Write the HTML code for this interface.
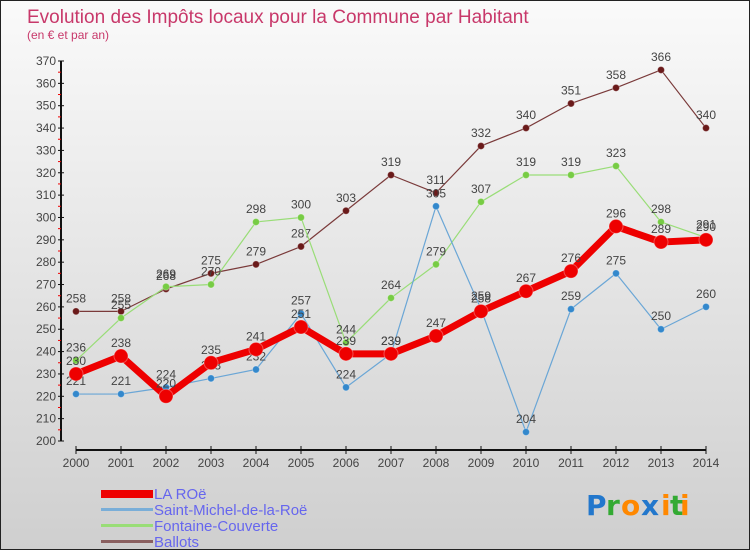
<!DOCTYPE html>
<html><head><meta charset="utf-8"><style>
body{margin:0}
#c{width:748px;height:548px;border:1px solid #222;background:linear-gradient(#fafafa,#cfcfcf);position:relative;font-family:"Liberation Sans",sans-serif;overflow:hidden}
</style></head><body>
<div id="c">
<svg id="s" width="748" height="548" style="position:absolute;left:0;top:0">
<text x="26" y="22" font-size="19" fill="#c8386a">Evolution des Impôts locaux pour la Commune par Habitant</text>
<text x="26" y="38" font-size="12" fill="#c8386a">(en € et par an)</text>
<g id="ax"></g><g id="ser"></g>
<g font-size="15" fill="#6666ee">
<rect x="100" y="489" width="52" height="8" fill="#ee0000"/>
<text x="153" y="498">LA ROë</text>
<rect x="100" y="507" width="52" height="3" fill="#7aaed8"/>
<text x="153" y="514">Saint-Michel-de-la-Roë</text>
<rect x="100" y="523" width="52" height="3" fill="#99dd77"/>
<text x="153" y="530">Fontaine-Couverte</text>
<rect x="100" y="539" width="52" height="3" fill="#8a6060"/>
<text x="153" y="546">Ballots</text>
</g>
<g font-size="28" font-family="'DejaVu Sans',sans-serif" font-weight="bold">
<text x="585" y="514" fill="#2277cc">P</text><text x="605" y="514" fill="#33aa33">r</text><text x="620" y="514" fill="#ff8800">o</text><text x="640" y="514" fill="#2277cc">x</text><text x="660" y="514" fill="#ff8800">i</text><text x="669" y="514" fill="#33aa33">t</text><text x="679" y="514" fill="#ff8800">i</text>
</g>
</svg></div>
<script>
const years=[2000,2001,2002,2003,2004,2005,2006,2007,2008,2009,2010,2011,2012,2013,2014];
const laRoe=[230,238,220,235,241,251,239,239,247,258,267,276,296,289,290];
const saintMichel=[221,221,224,228,232,257,224,239,305,259,204,259,275,250,260];
const fontaine=[236,255,269,270,298,300,244,264,279,307,319,319,323,298,291];
const ballots=[258,258,268,275,279,287,303,319,311,332,340,351,358,366,340];
const yTicks=[200,210,220,230,240,250,260,270,280,290,300,310,320,330,340,350,360,370];
const NS="http://www.w3.org/2000/svg";
const X=i=>75+i*45;
const Y=v=>440-(v-200)*380/170;
function mk(p,t,a){const e=document.createElementNS(NS,t);for(const k in a)e.setAttribute(k,a[k]);p.appendChild(e);return e;}
const ax=document.getElementById('ax');
mk(ax,'line',{x1:60,y1:Y(370),x2:60,y2:Y(200),stroke:'#111','stroke-width':2});
mk(ax,'line',{x1:75,y1:449,x2:705,y2:449,stroke:'#111','stroke-width':2});
yTicks.forEach(v=>{
 mk(ax,'line',{x1:57,y1:Y(v),x2:63,y2:Y(v),stroke:'#111'});
 if(v<370)mk(ax,'line',{x1:57,y1:Y(v+5),x2:60,y2:Y(v+5),stroke:'#e00'});
 const t=mk(ax,'text',{x:55,y:Y(v)+4,'text-anchor':'end','font-size':12,fill:'#444'});t.textContent=v;
 
 
});
years.forEach((y,i)=>{
 mk(ax,'line',{x1:X(i),y1:445,x2:X(i),y2:453,stroke:'#111'});
 const t=mk(ax,'text',{x:X(i),y:466,'text-anchor':'middle','font-size':12,fill:'#444'});t.textContent=y;
 
 
});
const ser=document.getElementById('ser');
function draw(vals,color,w,r,dot,name){
 const g=mk(ser,'g',{});
 
 
 mk(g,'polyline',{points:vals.map((v,i)=>X(i)+','+Y(v)).join(' '),fill:'none',stroke:color,'stroke-width':w,'stroke-linejoin':'round'});
 vals.forEach((v,i)=>{
  const c=mk(g,'circle',{cx:X(i),cy:Y(v),r:r,fill:dot,stroke:'#fff','stroke-opacity':0.3});
  
  
  const t=mk(g,'text',{x:X(i),y:Y(v)-9,'text-anchor':'middle','font-size':12,fill:'#444'});t.textContent=v;
  
  
 });
}
draw(ballots,'#7a3a3a',1.2,3.5,'#6a1a1a','ballots-series');
draw(fontaine,'#99dd77',1.2,3.5,'#77cc44','fontaine-series');
draw(saintMichel,'#6aa6d6',1.2,3.5,'#3388cc','saint-michel-series');
draw(laRoe,'#ee0000',7,7,'#ee0000','la-roe-series');
</script>
</body></html>
